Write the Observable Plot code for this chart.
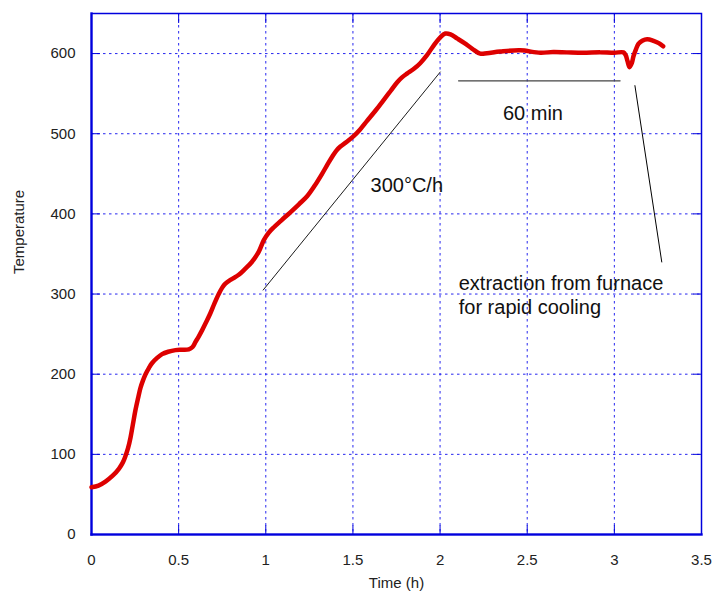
<!DOCTYPE html>
<html>
<head>
<meta charset="utf-8">
<script src="https://cdn.jsdelivr.net/npm/d3@7"></script>
<script src="https://cdn.jsdelivr.net/npm/@observablehq/plot@0.6"></script>
<style>
  html, body { margin: 0; padding: 0; background: #fff; }
  #chart { width: 712px; height: 594px; }
</style>
</head>
<body>
<div id="chart"></div>
<script>
// Measured temperature profile
const time = [0, 0.04, 0.08, 0.12, 0.157, 0.18, 0.195, 0.21, 0.224, 0.238, 0.252, 0.267, 0.281, 0.295, 0.31, 0.33, 0.348, 0.375, 0.405, 0.44, 0.482, 0.52, 0.558, 0.58, 0.596, 0.615, 0.635, 0.658, 0.682, 0.705, 0.73, 0.75, 0.768, 0.8, 0.845, 0.88, 0.92, 0.96, 0.988, 1.015, 1.045, 1.09, 1.141, 1.19, 1.237, 1.28, 1.323, 1.355, 1.38, 1.405, 1.428, 1.465, 1.504, 1.54, 1.581, 1.63, 1.676, 1.715, 1.753, 1.78, 1.81, 1.85, 1.886, 1.925, 1.963, 2.0, 2.03, 2.06, 2.097, 2.14, 2.185, 2.23, 2.269, 2.345, 2.46, 2.575, 2.65, 2.727, 2.82, 2.918, 3.0, 3.052, 3.065, 3.075, 3.087, 3.1, 3.11, 3.125, 3.138, 3.16, 3.188, 3.225, 3.255, 3.28];
const temperature = [59, 61, 66, 73, 82, 90, 98, 108, 121, 138, 155, 170, 183, 192, 200, 208, 214, 220, 225, 228, 230, 230.5, 231, 234, 240, 247, 255, 265, 276, 288, 300, 308, 313, 318, 324, 331, 340, 353, 367, 376, 383, 392, 402, 412, 422, 435, 450, 462, 471, 479, 484, 490, 497, 505, 516, 529, 542, 553, 564, 570, 575, 581, 588, 598, 610, 620, 625, 624, 619, 613, 606, 600, 600.5, 602.5, 604, 601, 602, 601.5, 601, 601.5, 601, 601.5, 598, 591, 583, 588, 597, 606, 612, 616, 618, 616, 613, 609];

// Tick values
const xTicks = [0, 0.5, 1, 1.5, 2, 2.5, 3, 3.5];
const yTicks = [0, 100, 200, 300, 400, 500, 600];

// Annotation guide lines
const rateLineTime = [0.985, 2.001];
const rateLineTemp = [305, 577];
const holdLineTime = [2.106, 3.033];
const holdLineTemp = [566, 566];
const extractLineTime = [3.118, 3.272];
const extractLineTemp = [560, 340];

// Annotation texts (left-anchored)
const leftText = ["300°C/h", "extraction from furnace", "for rapid cooling"];
const leftTime = [1.601, 2.107, 2.107];
const leftTemp = [435, 312.8, 282.5];
// Annotation texts (centred)
const midText = ["60 min"];
const midTime = [2.533];
const midTemp = [525.6];

const profile = time.map((t, i) => ({t, T: temperature[i]}));
const toPts = (xs, ys) => xs.map((x, i) => ({x, y: ys[i]}));
const toText = (ss, xs, ys) => ss.map((s, i) => ({s, x: xs[i], y: ys[i]}));

const blue = "#0000dd";
const font = "'Liberation Sans', Arial, Helvetica, sans-serif";

const chart = Plot.plot({
  width: 712,
  height: 594,
  marginLeft: 91,
  marginRight: 11,
  marginTop: 13,
  marginBottom: 60,
  style: {fontFamily: font, fontSize: "15px", background: "#fff", color: "#222"},
  x: {domain: [0, 3.5]},
  y: {domain: [0, 650]},
  marks: [
    Plot.gridX(xTicks, {stroke: "#1a1aee", strokeOpacity: 0.95, strokeDasharray: "2.5,3.5"}),
    Plot.gridY(yTicks, {stroke: "#1a1aee", strokeOpacity: 0.95, strokeDasharray: "2.5,3.5"}),
    Plot.axisX(xTicks, {anchor: "bottom", tickSize: 0, tickPadding: 20, label: null, fontSize: 15, fill: "#222", tickFormat: d => String(d)}),
    Plot.axisY(yTicks, {anchor: "left", tickSize: 0, tickPadding: 16, label: null, fontSize: 15, fill: "#222", tickFormat: d => String(d)}),
    Plot.axisY(yTicks, {anchor: "left", tickSize: -9, tickFormat: () => "", label: null, stroke: blue, strokeOpacity: 1}),
    Plot.axisY(yTicks, {anchor: "right", tickSize: -9, tickFormat: () => "", label: null, stroke: blue, strokeOpacity: 1}),
    Plot.axisX(xTicks, {anchor: "bottom", tickSize: -9, tickFormat: () => "", label: null, stroke: blue, strokeOpacity: 1}),
    Plot.axisX(xTicks, {anchor: "top", tickSize: -9, tickFormat: () => "", label: null, stroke: blue, strokeOpacity: 1}),
    Plot.frame({stroke: blue, strokeWidth: 1.5}),
    Plot.frame({anchor: "left", stroke: blue, strokeWidth: 2.5, strokeOpacity: 0.8}),
    Plot.frame({anchor: "bottom", stroke: blue, strokeWidth: 2.5, strokeOpacity: 0.8}),
    Plot.line(toPts(rateLineTime, rateLineTemp), {x: "x", y: "y", stroke: "#000", strokeWidth: 0.9}),
    Plot.line(toPts(holdLineTime, holdLineTemp), {x: "x", y: "y", stroke: "#444", strokeWidth: 1.2}),
    Plot.line(toPts(extractLineTime, extractLineTemp), {x: "x", y: "y", stroke: "#000", strokeWidth: 1}),
    Plot.line(profile, {x: "t", y: "T", stroke: "#dd0000", strokeWidth: 4.5, curve: "catmull-rom", strokeLinecap: "round"}),
    Plot.text(toText(leftText, leftTime, leftTemp), {x: "x", y: "y", text: "s", textAnchor: "start", lineAnchor: "middle", fontSize: 20, fill: "#111"}),
    Plot.text(toText(midText, midTime, midTemp), {x: "x", y: "y", text: "s", textAnchor: "middle", lineAnchor: "middle", fontSize: 20, fill: "#111"}),
    Plot.text(["Time (h)"], {frameAnchor: "bottom", dy: 49, lineAnchor: "middle", fontSize: 15, fill: "#222"}),
    Plot.text(["Temperature"], {frameAnchor: "left", dx: -72, rotate: -90, lineAnchor: "middle", fontSize: 15, fill: "#222"})
  ]
});

document.getElementById("chart").appendChild(chart);
</script>
</body>
</html>
